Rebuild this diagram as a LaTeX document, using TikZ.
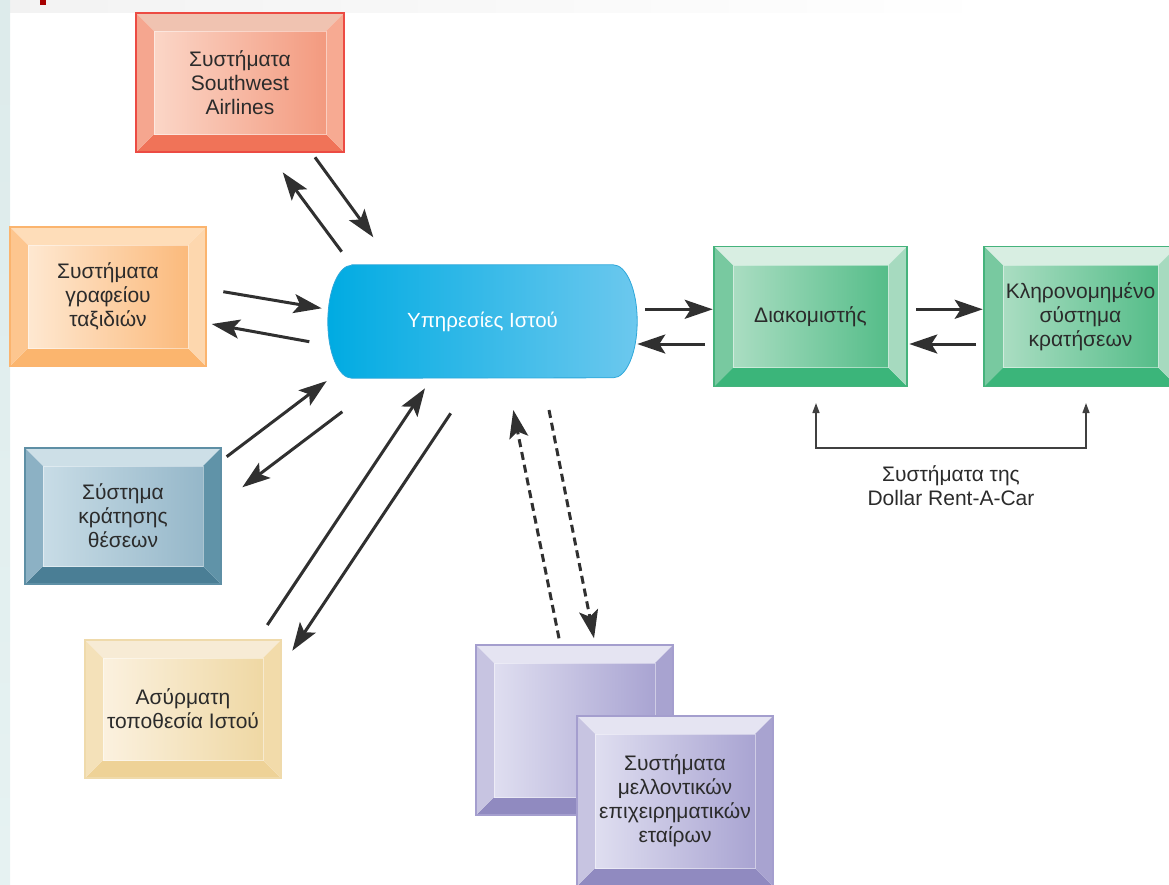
\documentclass[tikz,border=0pt]{standalone}
\usepackage{fontspec}
\setmainfont{Liberation Sans}
\usetikzlibrary{arrows.meta,backgrounds,calc}
% text / lines
\definecolor{txt}{HTML}{2B2B2B}
\definecolor{arr}{HTML}{303030}
% red
\definecolor{redT}{HTML}{F0C3B1}\definecolor{redL}{HTML}{F5A68F}\definecolor{redR}{HTML}{F7AA92}
\definecolor{redB}{HTML}{F07358}\definecolor{redF}{HTML}{FBD6C7}\definecolor{redG}{HTML}{F39A7F}\definecolor{redE}{HTML}{EC4B43}
% orange
\definecolor{orgT}{HTML}{FEDDB9}\definecolor{orgL}{HTML}{FDC68F}\definecolor{orgR}{HTML}{FDD7AE}
\definecolor{orgB}{HTML}{FBB56E}\definecolor{orgF}{HTML}{FEE8D1}\definecolor{orgG}{HTML}{FBBA7C}\definecolor{orgE}{HTML}{FBB46E}
% blue grey
\definecolor{bgT}{HTML}{CDDFE7}\definecolor{bgL}{HTML}{8CB1C4}\definecolor{bgR}{HTML}{6093A8}
\definecolor{bgB}{HTML}{4A7E95}\definecolor{bgF}{HTML}{C8DCE6}\definecolor{bgG}{HTML}{95B7C9}\definecolor{bgE}{HTML}{5E8FA5}
% tan
\definecolor{tanT}{HTML}{F7EBD5}\definecolor{tanL}{HTML}{F4E1B9}\definecolor{tanR}{HTML}{F2DBAA}
\definecolor{tanB}{HTML}{EED297}\definecolor{tanF}{HTML}{FBF1DF}\definecolor{tanG}{HTML}{EFD8A4}\definecolor{tanE}{HTML}{EFDAAB}
% green
\definecolor{grnT}{HTML}{D8EEE2}\definecolor{grnL}{HTML}{78C9A0}\definecolor{grnR}{HTML}{A6DABF}
\definecolor{grnB}{HTML}{3BB57A}\definecolor{grnF}{HTML}{AADDC2}\definecolor{grnG}{HTML}{55BD89}\definecolor{grnE}{HTML}{45B37C}
% purple
\definecolor{purT}{HTML}{E5E4F2}\definecolor{purL}{HTML}{C7C4E1}\definecolor{purR}{HTML}{A8A3D0}
\definecolor{purB}{HTML}{908AC0}\definecolor{purF}{HTML}{DFDEF0}\definecolor{purG}{HTML}{A9A4D2}\definecolor{purE}{HTML}{A49ECE}
% web services
\definecolor{wsA}{HTML}{00ABE2}\definecolor{wsM}{HTML}{10B4E6}\definecolor{wsB}{HTML}{6CC8EE}\definecolor{wsE}{HTML}{2EA7DA}
\newcommand{\bv}{18pt}
\tikzset{
  lbl/.style={font=\fontsize{21}{24}\selectfont, text=txt, align=center},
  bevw/.code={\renewcommand{\bv}{#1}},
  bevbox/.style={lbl, draw=#1E, line width=1.2pt, inner sep=0pt,
    path picture={
      \path (path picture bounding box.north west) coordinate (qnw)
            (path picture bounding box.north east) coordinate (qne)
            (path picture bounding box.south west) coordinate (qsw)
            (path picture bounding box.south east) coordinate (qse);
      \path ([shift={(\bv,-\bv)}]qnw) coordinate (inw)
            ([shift={(-\bv,-\bv)}]qne) coordinate (ine)
            ([shift={(\bv,\bv)}]qsw) coordinate (isw)
            ([shift={(-\bv,\bv)}]qse) coordinate (ise);
      \fill[#1T] (qnw) -- (qne) -- (ine) -- (inw) -- cycle;
      \fill[#1B] (qsw) -- (qse) -- (ise) -- (isw) -- cycle;
      \fill[#1L] (qnw) -- (inw) -- (isw) -- (qsw) -- cycle;
      \fill[#1R] (qne) -- (ine) -- (ise) -- (qse) -- cycle;
      \shade[left color=#1F, right color=#1G] (isw) rectangle (ine);
      \draw[white, opacity=0.45, line width=0.8pt] (isw) rectangle (ine);
    }},
  link/.style={line width=3pt, draw=arr, -{Stealth[length=28pt,width=19pt,inset=6pt]}},
  dlink/.style={link, dash pattern=on 8pt off 5pt},
  small/.style={line width=1.4pt, draw=txt!90, {Triangle[length=10pt,width=7pt]}-{Triangle[length=10pt,width=7pt]}}
}
\begin{document}
\begin{tikzpicture}[x=1pt,y=-1pt]
\useasboundingbox (0,0) rectangle (1169,884);
% page background traces
\fill[left color=white!95!black, right color=white] (10,0) rectangle (1000,12);
\fill[top color=cyan!6!white!92!black, bottom color=cyan!5!white!95!black] (0,0) rectangle (10,884);
\fill[red!65!black] (40,0) rectangle (46,5);

% boxes
\node[bevbox=red, minimum width=208pt, minimum height=139pt] (sw) at (240,82.5) {Συστήματα\\Southwest\\Airlines};
\node[bevbox=org, minimum width=196pt, minimum height=139pt] (ta) at (108,296.5) {Συστήματα\\γραφείου\\ταξιδιών};
\node[bevbox=bg, minimum width=196pt, minimum height=136pt] (sr) at (123,516) {Σύστημα\\κράτησης\\θέσεων};
\node[bevbox=tan, minimum width=196pt, minimum height=138pt] (wl) at (183,709) {Ασύρματη\\τοποθεσία Ιστού};
\node[bevbox=grn, bevw=19pt, minimum width=193pt, minimum height=140pt] (srv) at (810.5,316.5) {Διακομιστής};
\node[bevbox=grn, bevw=19pt, minimum width=193pt, minimum height=140pt] (lg) at (1080.5,316.5) {Κληρονομημένο\\σύστημα\\κρατήσεων};
\node[bevbox=pur, minimum width=197pt, minimum height=170pt] (pb) at (574.5,730) {};
\node[bevbox=pur, minimum width=196pt, minimum height=170pt] (pf) at (675,801) {Συστήματα\\μελλοντικών\\επιχειρηματικών\\εταίρων};

% web services
\node[lbl, text=white, font=\fontsize{20.5}{24}\selectfont, minimum width=309pt, minimum height=113pt] (ws) at (482.5,321.5) {Υπηρεσίες Ιστού};
\begin{pgfonlayer}{background}
\shade[left color=wsA, middle color=wsM, right color=wsB, draw=wsE, line width=0.8pt]
  ([xshift=24pt]ws.north west) -- ([xshift=-24pt]ws.north east)
  arc[start angle=90, end angle=-90, x radius=24pt, y radius=56.5pt]
  -- ([xshift=24pt]ws.south west)
  arc[start angle=270, end angle=90, x radius=24pt, y radius=56.5pt] -- cycle;
\end{pgfonlayer}

% connector end points
\coordinate (a1s) at (341.7,251.7); \coordinate (a1e) at (282.7,172.3);
\coordinate (a2s) at (315,157.3);   \coordinate (a2e) at (373.3,237.3);
\coordinate (b1s) at (223.3,291.7); \coordinate (b1e) at (321.7,308.3);
\coordinate (b2s) at (309.3,341.7); \coordinate (b2e) at (211.7,324);
\coordinate (c1s) at (226.7,456.7); \coordinate (c1e) at (326.7,381);
\coordinate (c2s) at (342.3,411.7); \coordinate (c2e) at (242.3,487.3);
\coordinate (d1s) at (267.3,625);   \coordinate (d1e) at (425,388.3);
\coordinate (d2s) at (450.7,413.3); \coordinate (d2e) at (292.3,650.7);
\coordinate (e1s) at (559,638.3);   \coordinate (e1e) at (513.3,410);
\coordinate (e2s) at (549,410);     \coordinate (e2e) at (594,638.3);
\coordinate (f1s) at (645,309.3);   \coordinate (f1e) at (712.7,309.3);
\coordinate (f2s) at (705,344);     \coordinate (f2e) at (637.3,344);
\coordinate (g1s) at (916,309.3);   \coordinate (g1e) at (982.7,309.3);
\coordinate (g2s) at (976,344);     \coordinate (g2e) at (909.3,344);
\coordinate (h1) at (816,403); \coordinate (h2) at (816,448);
\coordinate (h3) at (1086,448); \coordinate (h4) at (1086,403);

\draw[link] (a1s) -- (a1e);
\draw[link] (a2s) -- (a2e);
\draw[link] (b1s) -- (b1e);
\draw[link] (b2s) -- (b2e);
\draw[link] (c1s) -- (c1e);
\draw[link] (c2s) -- (c2e);
\draw[link] (d1s) -- (d1e);
\draw[link] (d2s) -- (d2e);
\draw[dlink] (e1s) -- (e1e);
\draw[dlink] (e2s) -- (e2e);
\draw[link] (f1s) -- (f1e);
\draw[link] (f2s) -- (f2e);
\draw[link] (g1s) -- (g1e);
\draw[link] (g2s) -- (g2e);
\draw[small] (h1) -- (h2) -- (h3) -- (h4);

\node[lbl] (dlr) at (951,485.5) {Συστήματα της\\Dollar Rent-A-Car};
\end{tikzpicture}
\end{document}
